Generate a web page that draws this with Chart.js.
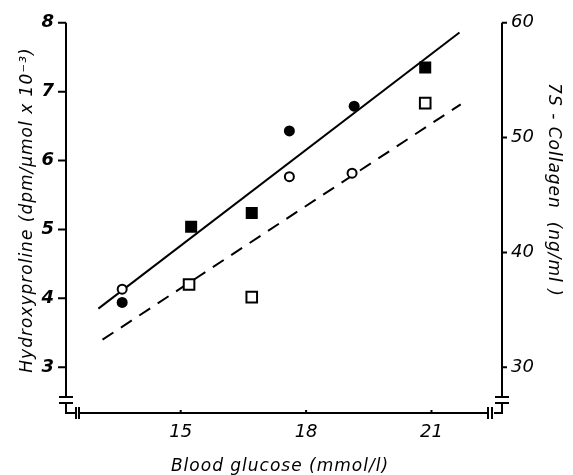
<!DOCTYPE html>
<html>
<head>
<meta charset="utf-8">
<script src="https://cdn.jsdelivr.net/npm/chart.js@4/dist/chart.umd.min.js"></script>
<style>
  body { margin: 0; background: #fff; }
  #wrap { width: 573px; height: 475px; }
</style>
</head>
<body>
<div id="wrap"><canvas id="chart" width="573" height="475"></canvas></div>
<script>
// Tick labels
const glucoseTicks = [15, 18, 21];
const hydroxyTicks = [3, 4, 5, 6, 7, 8];
const collagenTicks = [30, 40, 50, 60];

// Hydroxyproline (filled symbols, left axis)
const filledCircleX = [13.6, 17.6, 19.15];
const filledCircleY = [3.94, 6.43, 6.79];
const filledSquareX = [15.25, 16.7, 20.85];
const filledSquareY = [5.04, 5.24, 7.35];

// 7S-Collagen (open symbols, right axis)
const openCircleX = [13.6, 17.6, 19.1];
const openCircleY = [36.8, 46.6, 46.9];
const openSquareX = [15.2, 16.7, 20.85];
const openSquareY = [37.2, 36.1, 53.0];

// Regression lines
const solidLineX = [13.03, 21.67];
const solidLineY = [3.85, 7.86];
const dashedLineX = [13.13, 21.7];
const dashedLineY = [32.4, 52.9];

const toPoints = (xs, ys) => xs.map((x, i) => ({ x: x, y: ys[i] }));

const FONT = 'DejaVu Sans';

// axes with break marks, drawn by hand
const brokenAxes = {
    id: 'brokenAxes',
    beforeDatasetsDraw(chart) {
        const { ctx, chartArea: a, scales } = chart;
        const L = a.left, R = a.right, T = a.top, B = a.bottom;
        ctx.save();
        ctx.strokeStyle = '#000';
        ctx.lineWidth = 2;
        ctx.beginPath();
        // left axis
        ctx.moveTo(L, T); ctx.lineTo(L, B - 16);
        ctx.moveTo(L - 7, B - 16); ctx.lineTo(L + 7, B - 16);
        ctx.moveTo(L - 7, B - 10); ctx.lineTo(L + 7, B - 10);
        ctx.moveTo(L, B - 10); ctx.lineTo(L, B); ctx.lineTo(L + 9, B);
        // right axis
        ctx.moveTo(R, T); ctx.lineTo(R, B - 16);
        ctx.moveTo(R - 7, B - 16); ctx.lineTo(R + 7, B - 16);
        ctx.moveTo(R - 7, B - 10); ctx.lineTo(R + 7, B - 10);
        ctx.moveTo(R, B - 10); ctx.lineTo(R, B); ctx.lineTo(R - 8, B);
        // x axis with breaks
        ctx.moveTo(L + 10, B - 6); ctx.lineTo(L + 10, B + 6);
        ctx.moveTo(L + 13, B - 6); ctx.lineTo(L + 13, B + 6);
        ctx.moveTo(L + 14, B); ctx.lineTo(R - 15, B);
        ctx.moveTo(R - 14, B - 6); ctx.lineTo(R - 14, B + 6);
        ctx.moveTo(R - 10, B - 6); ctx.lineTo(R - 10, B + 6);
        // tick marks
        hydroxyTicks.forEach(v => {
            const y = scales.y.getPixelForValue(v);
            ctx.moveTo(L - 8, y); ctx.lineTo(L, y);
        });
        collagenTicks.forEach(v => {
            const y = scales.y2.getPixelForValue(v);
            ctx.moveTo(R, y); ctx.lineTo(R + 5, y);
        });
        glucoseTicks.forEach(v => {
            const x = scales.x.getPixelForValue(v);
            ctx.moveTo(x, B); ctx.lineTo(x, B - 3);
        });
        ctx.stroke();
        ctx.restore();
    }
};

// axis titles
const axisTitles = {
    id: 'axisTitles',
    afterDraw(chart) {
        const { ctx } = chart;
        ctx.save();
        ctx.fillStyle = '#000';
        ctx.font = 'italic 17px "' + FONT + '"';
        ctx.letterSpacing = '1px';
        ctx.textAlign = 'center';
        ctx.textBaseline = 'middle';
        ctx.fillText('Blood glucose (mmol/l)', 280, 467);

        ctx.save();
        ctx.translate(28, 210);
        ctx.rotate(-Math.PI / 2);
        ctx.fillText('Hydroxyproline (dpm/\u03bcmol x 10\u207b\u00b3)', 0, 0);
        ctx.restore();

        ctx.save();
        ctx.translate(553, 190);
        ctx.rotate(Math.PI / 2);
        ctx.fillText('7S - Collagen  (ng/ml )', 0, 0);
        ctx.restore();
        ctx.restore();
    }
};

const openStyle = {
    backgroundColor: '#fff',
    borderColor: '#000',
    borderWidth: 2
};

new Chart(document.getElementById('chart'), {
    type: 'scatter',
    data: {
        datasets: [
            { label: 'filled circles', data: toPoints(filledCircleX, filledCircleY), yAxisID: 'y',
              pointStyle: 'circle', pointRadius: 5.5, backgroundColor: '#000', borderColor: '#000', borderWidth: 0 },
            { label: 'filled squares', data: toPoints(filledSquareX, filledSquareY), yAxisID: 'y',
              pointStyle: 'rect', pointRadius: 8.5, backgroundColor: '#000', borderColor: '#000', borderWidth: 0 },
            { label: 'open circles', data: toPoints(openCircleX, openCircleY), yAxisID: 'y2',
              pointStyle: 'circle', pointRadius: 4.5, ...openStyle },
            { label: 'open squares', data: toPoints(openSquareX, openSquareY), yAxisID: 'y2',
              pointStyle: 'rect', pointRadius: 7.5, ...openStyle },
            { label: 'hydroxyproline fit', data: toPoints(solidLineX, solidLineY), yAxisID: 'y',
              showLine: true, pointRadius: 0, borderColor: '#000', borderWidth: 2 },
            { label: 'collagen fit', data: toPoints(dashedLineX, dashedLineY), yAxisID: 'y2',
              showLine: true, pointRadius: 0, borderColor: '#000', borderWidth: 2, borderDash: [13, 9] }
        ]
    },
    options: {
        responsive: false,
        animation: false,
        devicePixelRatio: 1,
        layout: { padding: { top: 21, bottom: 0, left: 0, right: 0 } },
        plugins: { legend: { display: false }, tooltip: { enabled: false } },
        scales: {
            x: {
                type: 'linear',
                min: 12.256,
                max: 22.687,
                afterBuildTicks: s => { s.ticks = glucoseTicks.map(v => ({ value: v })); },
                afterFit: s => { s.height = 62; },
                grid: { display: false, drawTicks: false },
                border: { display: false },
                ticks: { color: '#000', padding: 9, font: { family: FONT, size: 18, style: 'italic' } }
            },
            y: {
                position: 'left',
                min: 2.335,
                max: 8,
                afterBuildTicks: s => { s.ticks = hydroxyTicks.map(v => ({ value: v })); },
                afterFit: s => { s.width = 66; },
                grid: { display: false, drawTicks: false },
                border: { display: false },
                ticks: { color: '#000', padding: 12, font: { family: FONT, size: 18, style: 'italic', weight: 'bold' } }
            },
            y2: {
                position: 'right',
                min: 26.01,
                max: 60,
                afterBuildTicks: s => { s.ticks = collagenTicks.map(v => ({ value: v })); },
                afterFit: s => { s.width = 71; },
                grid: { display: false, drawTicks: false },
                border: { display: false },
                ticks: { color: '#000', padding: 9, font: { family: FONT, size: 18, style: 'italic' } }
            }
        }
    },
    plugins: [brokenAxes, axisTitles]
});
</script>
</body>
</html>
